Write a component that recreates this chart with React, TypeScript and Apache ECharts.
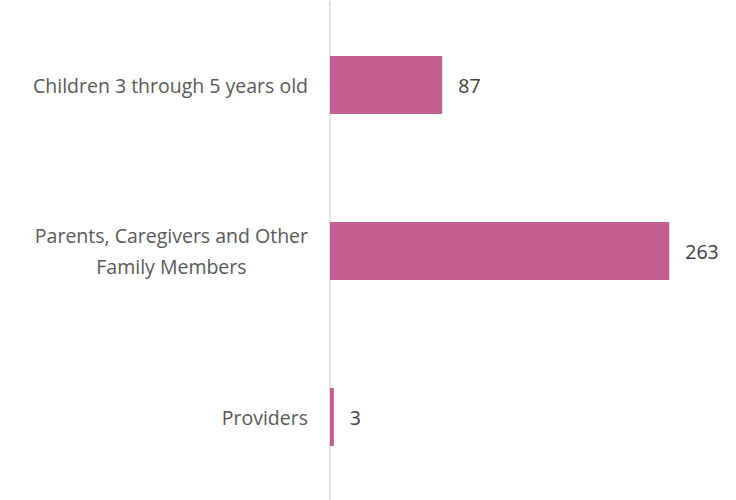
import React, { useEffect, useRef } from "react";
import * as echarts from "echarts";

const categories = [
  "Children 3 through 5 years old",
  "Parents, Caregivers and Other\nFamily Members",
  "Providers",
];
const values = [87, 263, 3];

const FONT = "Open Sans, Lato, sans-serif";

export default function App() {
  const ref = useRef<HTMLDivElement>(null);
  useEffect(() => {
    if (!ref.current) return;
    const chart = echarts.init(ref.current, null, { renderer: "svg" });
    chart.setOption({
      animation: false,
      grid: { left: 330, top: 2, width: 387, height: 498, containLabel: false },
      xAxis: {
        type: "value",
        min: 0,
        max: 300,
        show: false,
        splitLine: { show: false },
      },
      yAxis: {
        type: "category",
        data: categories,
        inverse: true,
        axisTick: { show: false },
        axisLine: { show: true, lineStyle: { color: "#d9d9d9", width: 1.5 } },
        axisLabel: {
          margin: 22,
          align: "right",
          formatter: (v: string) =>
            v
              .split("\n")
              .map((l) => "{a|" + l + "}")
              .join("\n"),
          rich: {
            a: {
              color: "#595959",
              fontSize: 19.5,
              fontFamily: FONT,
              lineHeight: 31,
              align: "center",
            },
          },
        },
      },
      series: [
        {
          type: "bar",
          data: values,
          barWidth: 58,
          itemStyle: { color: "#C55F93" },
          label: {
            show: true,
            position: "right",
            distance: 16,
            color: "#404040",
            fontSize: 19.5,
            fontFamily: FONT,
          },
        },
      ],
    });
    return () => chart.dispose();
  }, []);
  return <div ref={ref} style={{ width: 736, height: 500, position: "absolute", left: 0, top: 0 }} />;
}
